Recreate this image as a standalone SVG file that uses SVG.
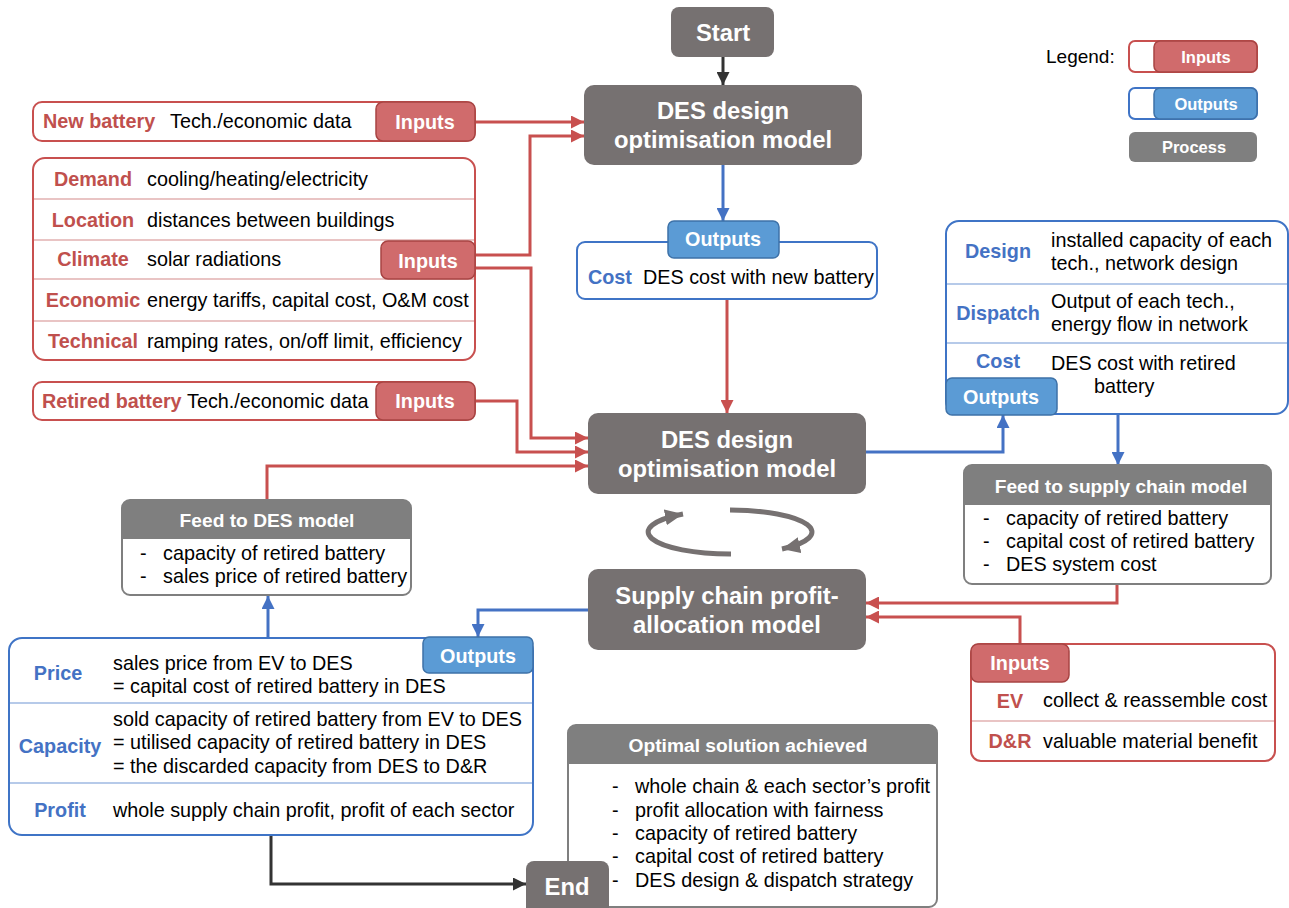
<svg xmlns="http://www.w3.org/2000/svg" width="1289" height="908" viewBox="0 0 1289 908">
<defs>
<style>
text{font-family:"Liberation Sans",Arial,sans-serif;font-size:19.8px;fill:#000}
.b{font-weight:bold}
.red{fill:#C0504D;font-weight:bold}
.blu{fill:#4472C4;font-weight:bold}
.m{text-anchor:middle}
.lbl{font-weight:bold;fill:#fff;text-anchor:middle}
.proc{font-size:23.8px;font-weight:bold;fill:#fff;text-anchor:middle}
.hdr{font-size:19.2px;font-weight:bold;fill:#fff;text-anchor:middle}
.leg{font-size:16.5px;font-weight:bold;fill:#fff;text-anchor:middle}
.rbox{fill:#fff;stroke:#C8504F;stroke-width:2}
.bbox{fill:#fff;stroke:#3F74C6;stroke-width:2}
.ilab{fill:#D06B6C;stroke:#A84443;stroke-width:1.5}
.olab{fill:#5B9BD5;stroke:#3E72A8;stroke-width:1.5}
.pbox{fill:#767171}
.gbox{fill:#fff;stroke:#7F7F7F;stroke-width:2}
.ghdr{fill:#7F7F7F}
.rsep{stroke:#D48A8A;stroke-width:1.2}
.bsep{stroke:#6F96D3;stroke-width:1.2}
.cr{fill:none;stroke:#C8504F;stroke-width:3}
.cb{fill:none;stroke:#4472C4;stroke-width:3}
.ck{fill:none;stroke:#333;stroke-width:3}
.cg{fill:none;stroke:#767171;stroke-width:5}
</style>
<marker id="ar" markerUnits="userSpaceOnUse" markerWidth="13" markerHeight="13" refX="13" refY="6.5" orient="auto"><path d="M0,0 L13,6.5 L0,13 z" fill="#C8504F"/></marker>
<marker id="ab" markerUnits="userSpaceOnUse" markerWidth="13" markerHeight="13" refX="13" refY="6.5" orient="auto"><path d="M0,0 L13,6.5 L0,13 z" fill="#4472C4"/></marker>
<marker id="ak" markerUnits="userSpaceOnUse" markerWidth="13" markerHeight="13" refX="13" refY="6.5" orient="auto"><path d="M0,0 L13,6.5 L0,13 z" fill="#333"/></marker>
<marker id="ag" markerUnits="userSpaceOnUse" markerWidth="18" markerHeight="16" refX="18" refY="8" orient="auto"><path d="M0,0 L18,8 L0,16 z" fill="#767171"/></marker>
</defs>

<g id="connectors">
<path class="ck" d="M723 57 L723 85" marker-end="url(#ak)"/>
<path class="cb" d="M723 165 L723 221" marker-end="url(#ab)"/>
<path class="cr" d="M475 122 L584 122" marker-end="url(#ar)"/>
<path class="cr" d="M475 255 L530 255 L530 136 L584 136" marker-end="url(#ar)"/>
<path class="cr" d="M475 268 L531 268 L531 438 L588 438" marker-end="url(#ar)"/>
<path class="cr" d="M475 401 L517 401 L517 452 L588 452" marker-end="url(#ar)"/>
<path class="cr" d="M267 500 L267 466 L588 466" marker-end="url(#ar)"/>
<path class="cr" d="M727 300 L727 413" marker-end="url(#ar)"/>
<path class="cb" d="M866 452 L1003 452 L1003 415" marker-end="url(#ab)"/>
<path class="cb" d="M1118 414 L1118 465" marker-end="url(#ab)"/>
<path class="cr" d="M1117 584 L1117 603 L866 603" marker-end="url(#ar)"/>
<path class="cr" d="M1020 644 L1020 617 L866 617" marker-end="url(#ar)"/>
<path class="cb" d="M588 610 L478 610 L478 637" marker-end="url(#ab)"/>
<path class="cb" d="M268 638 L268 596" marker-end="url(#ab)"/>
<path class="ck" d="M271 834 L271 884 L526 884" marker-end="url(#ak)"/>
<path class="cg" d="M730 510 A82 22 0 0 1 782 549" marker-end="url(#ag)"/>
<path class="cg" d="M731 554 A82 22 0 0 1 683 514" marker-end="url(#ag)"/>
</g>

<g id="start">
<rect class="pbox" x="671" y="7" width="103" height="50" rx="8"/>
<text class="proc" x="723" y="41">Start</text>
</g>

<g id="des1">
<rect class="pbox" x="584" y="85" width="278" height="80" rx="10"/>
<text class="proc" x="723" y="119">DES design</text>
<text class="proc" x="723" y="148">optimisation model</text>
</g>

<g id="cost-new">
<rect class="bbox" x="577" y="242" width="300" height="57" rx="8"/>
<rect class="olab" x="668" y="221" width="111" height="37" rx="6"/>
<text class="lbl" x="723" y="246">Outputs</text>
<text class="blu" x="588" y="284">Cost</text>
<text x="643" y="284">DES cost with new battery</text>
</g>

<g id="new-battery">
<rect class="rbox" x="33" y="102" width="442" height="39" rx="9"/>
<rect class="ilab" x="376" y="102" width="99" height="39" rx="7"/>
<text class="red" x="43" y="128">New battery</text>
<text x="170" y="128">Tech./economic data</text>
<text class="lbl" x="425" y="129">Inputs</text>
</g>

<g id="inputs-main">
<rect class="rbox" x="33" y="158" width="442" height="202" rx="12"/>
<line class="rsep" x1="34" y1="199" x2="474" y2="199"/>
<line class="rsep" x1="34" y1="240" x2="474" y2="240"/>
<line class="rsep" x1="34" y1="279" x2="474" y2="279"/>
<line class="rsep" x1="34" y1="321" x2="474" y2="321"/>
<text class="red m" x="93" y="186">Demand</text>
<text x="147" y="186">cooling/heating/electricity</text>
<text class="red m" x="93" y="227">Location</text>
<text x="147" y="227">distances between buildings</text>
<text class="red m" x="93" y="266">Climate</text>
<text x="147" y="266">solar radiations</text>
<text class="red m" x="93" y="307">Economic</text>
<text x="147" y="307">energy tariffs, capital cost, O&amp;M cost</text>
<text class="red m" x="93" y="348">Technical</text>
<text x="147" y="348">ramping rates, on/off limit, efficiency</text>
<rect class="ilab" x="381" y="241" width="94" height="38" rx="7"/>
<text class="lbl" x="428" y="268">Inputs</text>
</g>

<g id="retired-battery">
<rect class="rbox" x="33" y="382" width="442" height="38" rx="9"/>
<rect class="ilab" x="376" y="382" width="99" height="38" rx="7"/>
<text class="red" x="42" y="408">Retired battery</text>
<text x="187" y="408">Tech./economic data</text>
<text class="lbl" x="425" y="408">Inputs</text>
</g>

<g id="legend">
<text x="1046" y="63" style="font-size:19px">Legend:</text>
<rect class="rbox" x="1129" y="41" width="128" height="31" rx="6"/>
<rect class="ilab" x="1154" y="41" width="103" height="31" rx="6"/>
<text class="leg" x="1206" y="63">Inputs</text>
<rect class="bbox" x="1129" y="88" width="128" height="31" rx="6"/>
<rect class="olab" x="1154" y="88" width="103" height="31" rx="6"/>
<text class="leg" x="1206" y="110">Outputs</text>
<rect x="1129" y="132" width="128" height="30" rx="6" fill="#7F7F7F"/>
<text class="leg" x="1194" y="153">Process</text>
</g>

<g id="des-outputs">
<rect class="bbox" x="946" y="221" width="342" height="193" rx="13"/>
<line class="bsep" x1="947" y1="284" x2="1287" y2="284"/>
<line class="bsep" x1="947" y1="343" x2="1287" y2="343"/>
<text class="blu m" x="998" y="258">Design</text>
<text x="1051" y="247">installed capacity of each</text>
<text x="1051" y="270">tech., network design</text>
<text class="blu m" x="998" y="320">Dispatch</text>
<text x="1051" y="308">Output of each tech.,</text>
<text x="1051" y="331">energy flow in network</text>
<text class="blu m" x="998" y="368">Cost</text>
<text x="1051" y="370">DES cost with retired</text>
<text x="1094" y="393">battery</text>
<rect class="olab" x="946" y="378" width="111" height="37" rx="6"/>
<text class="lbl" x="1001" y="404">Outputs</text>
</g>

<g id="des2">
<rect class="pbox" x="588" y="413" width="278" height="81" rx="10"/>
<text class="proc" x="727" y="448">DES design</text>
<text class="proc" x="727" y="477">optimisation model</text>
</g>

<g id="feed-supply">
<rect class="gbox" x="964" y="465" width="307" height="119" rx="8"/>
<path class="ghdr" d="M972 465 H1263 A8 8 0 0 1 1271 473 V505 H964 V473 A8 8 0 0 1 972 465 Z"/>
<text class="hdr" x="1121" y="493">Feed to supply chain model</text>
<text x="983" y="525">-</text><text x="1006" y="525">capacity of retired battery</text>
<text x="983" y="548">-</text><text x="1006" y="548">capital cost of retired battery</text>
<text x="983" y="571">-</text><text x="1006" y="571">DES system cost</text>
</g>

<g id="supply-chain">
<rect class="pbox" x="588" y="569" width="278" height="81" rx="10"/>
<text class="proc" x="727" y="604">Supply chain profit-</text>
<text class="proc" x="727" y="633">allocation model</text>
</g>

<g id="feed-des">
<rect class="gbox" x="122" y="500" width="289" height="95" rx="8"/>
<path class="ghdr" d="M130 500 H403 A8 8 0 0 1 411 508 V539 H122 V508 A8 8 0 0 1 130 500 Z"/>
<text class="hdr" x="267" y="527">Feed to DES model</text>
<text x="140" y="560">-</text><text x="163" y="560">capacity of retired battery</text>
<text x="140" y="583">-</text><text x="163" y="583">sales price of retired battery</text>
</g>

<g id="sc-outputs">
<rect class="bbox" x="9" y="638" width="524" height="197" rx="13"/>
<line class="bsep" x1="10" y1="703" x2="532" y2="703"/>
<line class="bsep" x1="10" y1="783" x2="532" y2="783"/>
<text class="blu m" x="58" y="680">Price</text>
<text x="113" y="670">sales price from EV to DES</text>
<text x="113" y="693">= capital cost of retired battery in DES</text>
<text class="blu m" x="60" y="753">Capacity</text>
<text x="113" y="726">sold capacity of retired battery from EV to DES</text>
<text x="113" y="749">= utilised capacity of retired battery in DES</text>
<text x="113" y="773">= the discarded capacity from DES to D&amp;R</text>
<text class="blu m" x="60" y="817">Profit</text>
<text x="113" y="817">whole supply chain profit, profit of each sector</text>
<rect class="olab" x="423" y="637" width="110" height="36" rx="6"/>
<text class="lbl" x="478" y="663">Outputs</text>
</g>

<g id="sc-inputs">
<rect class="rbox" x="971" y="644" width="304" height="117" rx="10"/>
<line class="rsep" x1="972" y1="721" x2="1274" y2="721"/>
<rect class="ilab" x="971" y="644" width="98" height="38" rx="7"/>
<text class="lbl" x="1020" y="670">Inputs</text>
<text class="red m" x="1010" y="708">EV</text>
<text x="1043" y="707">collect &amp; reassemble cost</text>
<text class="red m" x="1010" y="748">D&amp;R</text>
<text x="1043" y="748">valuable material benefit</text>
</g>

<g id="optimal">
<rect class="gbox" x="568" y="725" width="369" height="182" rx="8"/>
<path class="ghdr" d="M576 725 H929 A8 8 0 0 1 937 733 V764 H568 V733 A8 8 0 0 1 576 725 Z"/>
<text class="hdr" x="748" y="752">Optimal solution achieved</text>
<text x="612" y="793">-</text><text x="635" y="793">whole chain &amp; each sector’s profit</text>
<text x="612" y="817">-</text><text x="635" y="817">profit allocation with fairness</text>
<text x="612" y="840">-</text><text x="635" y="840">capacity of retired battery</text>
<text x="612" y="863">-</text><text x="635" y="863">capital cost of retired battery</text>
<text x="612" y="887">-</text><text x="635" y="887">DES design &amp; dispatch strategy</text>
</g>

<g id="end">
<rect class="pbox" x="526" y="861" width="83" height="56" rx="8"/>
<text class="proc" x="567" y="895">End</text>
</g>
</svg>
